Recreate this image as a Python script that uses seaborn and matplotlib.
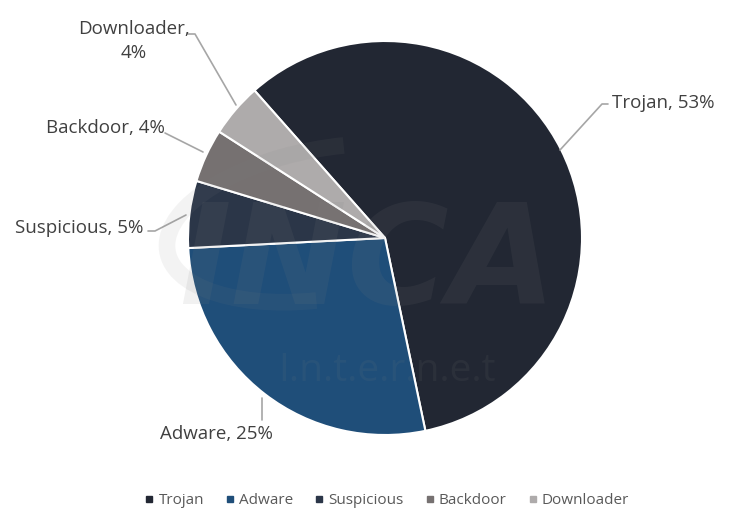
import seaborn as sns
import matplotlib.pyplot as plt
from matplotlib.patches import Arc

# data
categories = ['Trojan', 'Adware', 'Suspicious', 'Backdoor', 'Downloader']
shares = [53, 25, 5, 4, 4]
colors = ['#222733', '#1f4e79', '#2b3648', '#767171', '#aeabab']

sns.set_theme(style='white')
plt.rcParams['font.family'] = ['Open Sans', 'DejaVu Sans']

fig = plt.figure(figsize=(7.31, 5.23), dpi=100)
fig.patch.set_facecolor('white')
ax = fig.add_axes([0, 0, 1, 1])

# pixel-like coordinates, y up
cx, cy, r = 385, 285, 197
wedges, _ = ax.pie(shares, colors=colors, startangle=131.5, counterclock=False,
                   center=(cx, cy), radius=r,
                   wedgeprops=dict(edgecolor='white', linewidth=1.5))
ax.set_xlim(0, 731)
ax.set_ylim(0, 523)
ax.set_aspect('equal')
ax.axis('off')

# watermark
ax.add_patch(Arc((330, 300), 330, 150, angle=10, theta1=70, theta2=250,
                 color='#808080', alpha=0.09, lw=12, zorder=3))
ax.text(368, 258, 'INCA', fontsize=100, fontweight='bold', fontstyle='oblique',
        color='#808080', alpha=0.11, ha='center', va='center', zorder=3,
        family='DejaVu Sans')
ax.text(387, 152, 'I.n.t.e.r.n.e.t', fontsize=28, color='#808080', alpha=0.1,
        ha='center', va='center', zorder=3)

# labels with leader lines
lab_kw = dict(fontsize=13.5, color='#404040')
line_kw = dict(color='#a6a6a6', lw=1.2)
pcts = [f'{v}%' for v in shares]

ax.plot([560, 602, 608], [373, 419, 419], **line_kw)
ax.text(612, 420, f'{categories[0]}, {pcts[0]}', ha='left', va='center', **lab_kw)

ax.plot([262, 262], [125, 103], **line_kw)
ax.text(216, 89, f'{categories[1]}, {pcts[1]}', ha='center', va='center', **lab_kw)

ax.plot([186, 155, 148], [308, 292, 292], **line_kw)
ax.text(143, 295, f'{categories[2]}, {pcts[2]}', ha='right', va='center', **lab_kw)

ax.plot([203, 165], [371, 390], **line_kw)
ax.text(105, 395, f'{categories[3]}, {pcts[3]}', ha='center', va='center', **lab_kw)

ax.plot([236, 195, 188], [418, 489, 489], **line_kw)
ax.text(134, 482, f'{categories[4]},\n{pcts[4]}', ha='center', va='center',
        linespacing=1.5, **lab_kw)

# legend
handles = [plt.Line2D([], [], marker='s', color=c, linestyle='', markersize=5)
           for c in colors]
leg = ax.legend(handles, categories, loc='center', bbox_to_anchor=(387 / 731, 22 / 523),
                ncol=5, frameon=False, fontsize=11, handlelength=0.6,
                handletextpad=0.3, columnspacing=1.4)
for t in leg.get_texts():
    t.set_color('#595959')

plt.savefig('out.png', dpi=100, facecolor='white')
plt.close()
